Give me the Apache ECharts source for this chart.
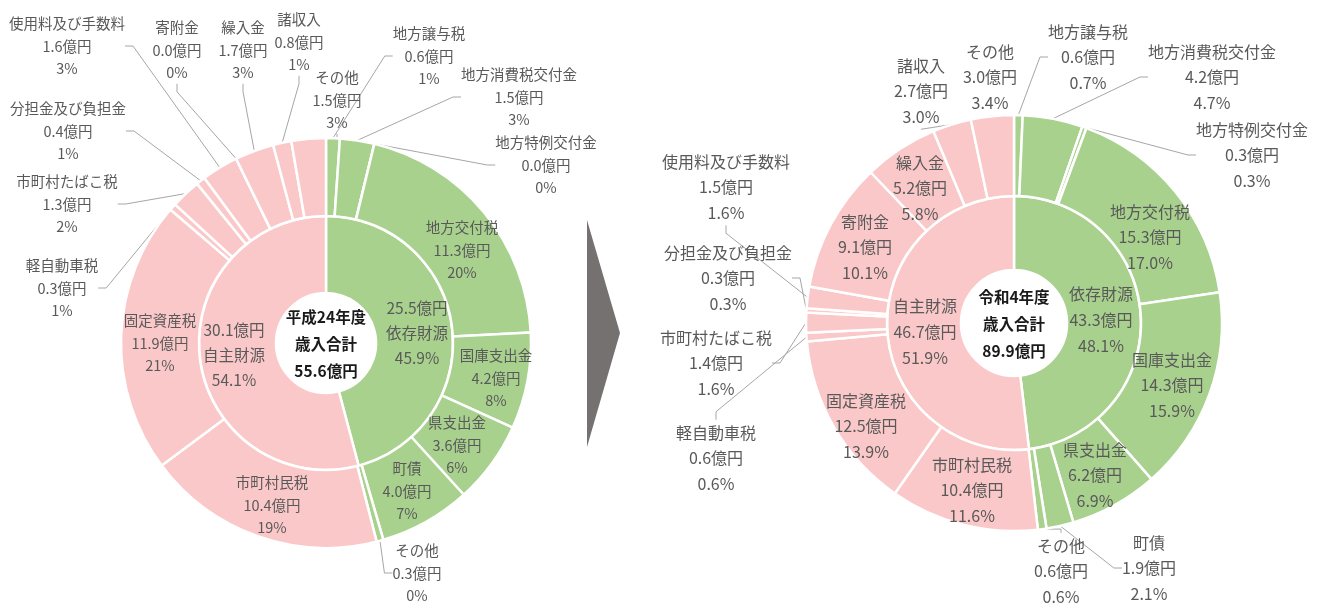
<!DOCTYPE html>
<html lang="ja">
<head>
<meta charset="utf-8">
<title>歳入の内訳</title>
<script src="https://cdn.jsdelivr.net/npm/echarts@6/dist/echarts.min.js"></script>
<style>
  html, body { margin: 0; padding: 0; background: #ffffff; }
  #chart { width: 1324px; height: 606px; }
</style>
</head>
<body>
<div id="chart"></div>
<script>
// 内側の輪：財源の区分
const groupNames = ['依存財源', '自主財源'];
// 外側の輪：科目（12時の位置から時計回り）
const itemNames = [
  '地方譲与税', '地方消費税交付金', '地方特例交付金', '地方交付税', '国庫支出金',
  '県支出金', '町債', 'その他',
  '市町村民税', '固定資産税', '軽自動車税', '市町村たばこ税', '分担金及び負担金',
  '使用料及び手数料', '寄附金', '繰入金', '諸収入', 'その他'
];
// 各科目が属する区分（0:依存財源, 1:自主財源）
const itemGroup = [0, 0, 0, 0, 0, 0, 0, 0, 1, 1, 1, 1, 1, 1, 1, 1, 1, 1];

// 平成24年度（億円）
const h24Title = '平成24年度';
const h24Total = 55.6;
const h24GroupValues = [25.5, 30.1];
const h24GroupPct = ['45.9%', '54.1%'];
const h24ItemValues = [0.6, 1.5, 0.0, 11.3, 4.2, 3.6, 4.0, 0.3,
                       10.4, 11.9, 0.3, 1.3, 0.4, 1.6, 0.0, 1.7, 0.8, 1.5];
const h24ItemPct = ['1%', '3%', '0%', '20%', '8%', '6%', '7%', '0%',
                    '19%', '21%', '1%', '2%', '1%', '3%', '0%', '3%', '1%', '3%'];

// 令和4年度（億円）
const r4Title = '令和4年度';
const r4Total = 89.9;
const r4GroupValues = [43.3, 46.7];
const r4GroupPct = ['48.1%', '51.9%'];
const r4ItemValues = [0.6, 4.2, 0.3, 15.3, 14.3, 6.2, 1.9, 0.6,
                      10.4, 12.5, 0.6, 1.4, 0.3, 1.5, 9.1, 5.2, 2.7, 3.0];
const r4ItemPct = ['0.7%', '4.7%', '0.3%', '17.0%', '15.9%', '6.9%', '2.1%', '0.6%',
                   '11.6%', '13.9%', '0.6%', '1.6%', '0.3%', '1.6%', '10.1%', '5.8%', '3.0%', '3.4%'];

// ---- 見た目の設定 ----
const FONT = '"Noto Sans CJK JP", "Noto Sans", sans-serif';
const COLORS = ['#A9D18E', '#FBC8C9'];
const TEXT = '#595959';
const LINE = '#A6A6A6';

// ラベルの配置（中心座標）と、引き出し線を使うラベル
const h24Layout = {
  center: [326, 343], hole: 50, mid: 127, outer: 205,
  itemFont: 14.5, itemLH: 22.5, groupFont: 15.5, groupLH: 25,
  groupAt: [[417, 333], [234, 355]],
  itemAt: [[429, 56], [519, 97], [546, 165], [462, 250], [496, 378], [457, 445], [407, 491], [417, 573],
           [272, 505], [160, 343], [62, 288], [67, 204], [68, 131], [67, 46], [177, 50], [243, 50], [299, 42], [337, 100]],
  outside: [0, 1, 2, 7, 10, 11, 12, 13, 14, 15, 16, 17],
  valueFirst: true
};
const r4Layout = {
  center: [1014, 323], hole: 53, mid: 127, outer: 208,
  itemFont: 16, itemLH: 25.5, groupFont: 16, groupLH: 26,
  groupAt: [[1101, 320], [925, 332]],
  itemAt: [[1088, 57], [1212, 77], [1252, 155], [1150, 237], [1172, 385], [1095, 475], [1149, 568], [1061, 571],
           [972, 490], [866, 426], [716, 458], [716, 363], [728, 278], [726, 187], [865, 247], [920, 188], [921, 91], [990, 77]],
  outside: [0, 1, 2, 6, 7, 10, 11, 12, 13, 16, 17],
  valueFirst: false
};

function yen(v) { return v.toFixed(1) + '億円'; }

function buildRings(id, groupValues, groupPct, itemValues, itemPct, L) {
  const inner = {
    type: 'pie', id: id + '-inner', silent: true, animation: false,
    center: L.center, radius: [L.hole, L.mid],
    startAngle: 90, clockwise: true, avoidLabelOverlap: false,
    itemStyle: { borderColor: '#ffffff', borderWidth: 2.5 },
    label: {
      show: true, position: 'inside', color: TEXT, fontFamily: FONT,
      fontSize: L.groupFont, lineHeight: L.groupLH, align: 'center'
    },
    labelLine: { show: false },
    labelLayout: function (p) {
      const at = L.groupAt[p.dataIndex];
      return { x: at[0], y: at[1], align: 'center', verticalAlign: 'middle' };
    },
    data: groupNames.map(function (name, i) {
      const lines = L.valueFirst
        ? [yen(groupValues[i]), name, groupPct[i]]
        : [name, yen(groupValues[i]), groupPct[i]];
      return {
        name: name, value: groupValues[i],
        itemStyle: { color: COLORS[i] },
        label: { formatter: lines.join('\n') }
      };
    })
  };
  const outer = {
    type: 'pie', id: id + '-outer', silent: true, animation: false,
    center: L.center, radius: [L.mid, L.outer],
    startAngle: 90, clockwise: true, avoidLabelOverlap: false,
    itemStyle: { borderColor: '#ffffff', borderWidth: 2.5 },
    label: {
      show: true, color: TEXT, fontFamily: FONT,
      fontSize: L.itemFont, lineHeight: L.itemLH, align: 'center'
    },
    labelLine: {
      show: true, length: 6, length2: 8, smooth: false,
      lineStyle: { color: LINE, width: 1 }
    },
    labelLayout: function (p) {
      const at = L.itemAt[p.dataIndex];
      return { x: at[0], y: at[1], align: 'center', verticalAlign: 'middle' };
    },
    data: itemNames.map(function (name, i) {
      const out = L.outside.indexOf(i) >= 0;
      return {
        name: name, value: itemValues[i],
        itemStyle: { color: COLORS[itemGroup[i]] },
        label: {
          position: out ? 'outside' : 'inside',
          formatter: [name, yen(itemValues[i]), itemPct[i]].join('\n')
        },
        labelLine: { show: out }
      };
    })
  };
  return [inner, outer];
}

function centerText(title, total, L) {
  return {
    type: 'text', silent: true,
    x: L.center[0], y: L.center[1] + 1,
    style: {
      text: [title, '歳入合計', total.toFixed(1) + '億円'].join('\n'),
      fill: '#1a1a1a', font: 'bold 15.5px ' + FONT,
      align: 'center', verticalAlign: 'middle', lineHeight: 27
    }
  };
}

const chart = echarts.init(document.getElementById('chart'), null, { renderer: 'canvas' });
chart.setOption({
  backgroundColor: '#ffffff',
  animation: false,
  series: buildRings('h24', h24GroupValues, h24GroupPct, h24ItemValues, h24ItemPct, h24Layout)
    .concat(buildRings('r4', r4GroupValues, r4GroupPct, r4ItemValues, r4ItemPct, r4Layout)),
  graphic: [
    centerText(h24Title, h24Total, h24Layout),
    centerText(r4Title, r4Total, r4Layout),
    {
      // 二つの年度をつなぐ矢印
      type: 'polygon', silent: true,
      shape: { points: [[587, 220], [620, 333], [587, 447]] },
      style: { fill: '#767171' }
    }
  ]
});
</script>
</body>
</html>
